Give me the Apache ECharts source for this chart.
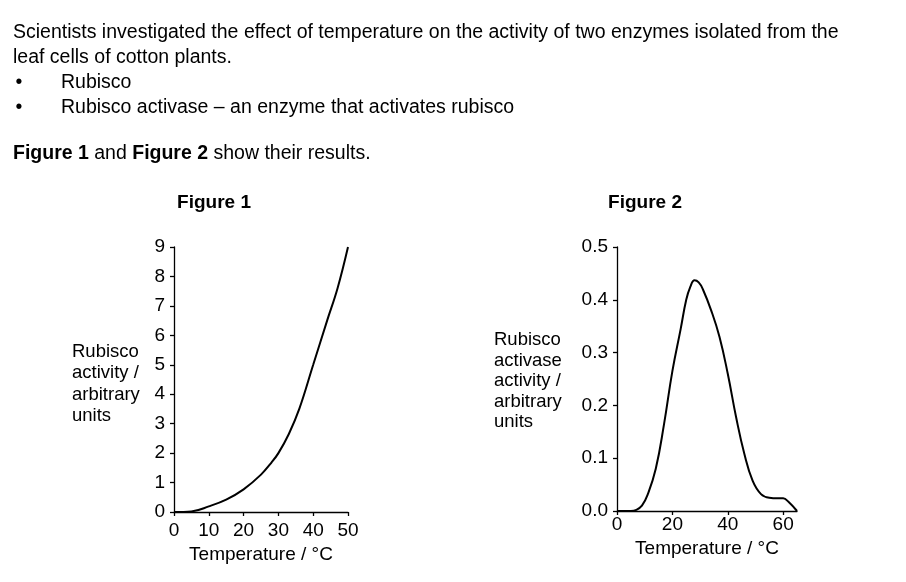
<!DOCTYPE html>
<html>
<head>
<meta charset="utf-8">
<title>Rubisco and rubisco activase</title>
<script src="https://cdn.jsdelivr.net/npm/echarts@6/dist/echarts.min.js"></script>
<style>
  html, body { margin: 0; padding: 0; background: #fff; }
  #main { width: 906px; height: 582px; }
</style>
</head>
<body>
<div id="main"></div>
<script>
// Figure 1: rubisco activity against temperature
var fig1Temp = [0, 5, 10, 15, 20, 25, 28, 30, 33, 36, 40, 44, 47, 50];
var fig1Activity = [0, 0.02, 0.19, 0.42, 0.77, 1.27, 1.68, 2.0, 2.65, 3.5, 5.0, 6.5, 7.6, 9.0];
var fig1XTicks = [0, 10, 20, 30, 40, 50];
var fig1YTicks = [0, 1, 2, 3, 4, 5, 6, 7, 8, 9];

// Figure 2: rubisco activase activity against temperature
var fig2Temp = [0, 5, 7, 9, 11, 14, 17, 20, 23, 25, 26.5, 28, 29.5, 31, 34, 37, 40, 43, 46, 49, 52, 55, 58, 60, 62, 65];
var fig2Activity = [0, 0, 0.002, 0.01, 0.03, 0.08, 0.165, 0.265, 0.345, 0.4, 0.425, 0.437, 0.433, 0.42, 0.38, 0.33, 0.26, 0.178, 0.108, 0.057, 0.032, 0.025, 0.024, 0.024, 0.017, 0];
var fig2XTicks = [0, 20, 40, 60];
var fig2YTicks = [0, 0.1, 0.2, 0.3, 0.4, 0.5];

var introLines = [
  'Scientists investigated the effect of temperature on the activity of two enzymes isolated from the',
  'leaf cells of cotton plants.'
];
var bulletItems = ['Rubisco', 'Rubisco activase \u2013 an enzyme that activates rubisco'];

(function () {
  var FONT = '"Liberation Sans", Arial, sans-serif';
  var myChart = echarts.init(document.getElementById('main'));

  function pairs(xs, ys) {
    return xs.map(function (x, i) { return [x, ys[i]]; });
  }

  // question text above the figures
  var texts = [];
  introLines.forEach(function (line, i) {
    texts.push({ type: 'text', x: 13, y: 32.5 + i * 25,
      style: { text: line, font: '19.5px ' + FONT, fill: '#000', verticalAlign: 'middle' } });
  });
  bulletItems.forEach(function (item, i) {
    var y = 82.5 + i * 25;
    texts.push({ type: 'text', x: 19, y: y, style: { text: '\u2022', font: '19.5px ' + FONT, fill: '#000', align: 'center', verticalAlign: 'middle' } });
    texts.push({ type: 'text', x: 61, y: y, style: { text: item, font: '19.5px ' + FONT, fill: '#000', verticalAlign: 'middle' } });
  });
  texts.push({ type: 'text', x: 13, y: 154,
    style: {
      text: '{b|Figure 1} and {b|Figure 2} show their results.',
      font: '19.5px ' + FONT, fill: '#000', verticalAlign: 'middle',
      rich: { b: { fontWeight: 'bold', fontSize: 19.5, fontFamily: FONT } }
    } });
  // figure titles
  texts.push({ type: 'text', x: 214, y: 203, style: { text: 'Figure 1', font: 'bold 19px ' + FONT, fill: '#000', align: 'center', verticalAlign: 'middle' } });
  texts.push({ type: 'text', x: 645, y: 203, style: { text: 'Figure 2', font: 'bold 19px ' + FONT, fill: '#000', align: 'center', verticalAlign: 'middle' } });
  // y axis names, left aligned blocks
  texts.push({ type: 'text', x: 72, y: 341, style: { text: 'Rubisco\nactivity /\narbitrary\nunits', font: '18.5px ' + FONT, lineHeight: 21.5, fill: '#000' } });
  texts.push({ type: 'text', x: 494, y: 330, style: { text: 'Rubisco\nactivase\nactivity /\narbitrary\nunits', font: '18.5px ' + FONT, lineHeight: 20.5, fill: '#000' } });

  var axisLine = { show: true, lineStyle: { color: '#000', width: 1.3 } };
  var axisTick = { show: true, inside: false, length: 4, lineStyle: { color: '#000', width: 1.3 } };
  var labelStyle = { color: '#000', fontSize: 19, fontFamily: FONT };

  var option = {
    backgroundColor: '#fff',
    animation: false,
    graphic: texts,
    grid: [
      { left: 174, top: 247, width: 174, height: 265 },
      { left: 617, top: 247, width: 180, height: 264 }
    ],
    xAxis: [
      {
        type: 'value', gridIndex: 0, min: 0, max: 50, interval: 10,
        name: 'Temperature / \u00b0C', nameLocation: 'middle', nameGap: 33,
        nameTextStyle: labelStyle,
        axisLine: axisLine,
        axisTick: Object.assign({ customValues: fig1XTicks }, axisTick),
        axisLabel: Object.assign({ margin: 9, customValues: fig1XTicks }, labelStyle),
        splitLine: { show: false }
      },
      {
        type: 'value', gridIndex: 1, min: 0, max: 65,
        name: 'Temperature / \u00b0C', nameLocation: 'middle', nameGap: 28,
        nameTextStyle: labelStyle,
        axisLine: axisLine,
        axisTick: Object.assign({ customValues: fig2XTicks }, axisTick),
        axisLabel: Object.assign({ margin: 4, customValues: fig2XTicks }, labelStyle),
        splitLine: { show: false }
      }
    ],
    yAxis: [
      {
        type: 'value', gridIndex: 0, min: 0, max: 9, interval: 1,
        axisLine: axisLine,
        axisTick: Object.assign({ customValues: fig1YTicks }, axisTick),
        axisLabel: Object.assign({ margin: 9, customValues: fig1YTicks }, labelStyle),
        splitLine: { show: false }
      },
      {
        type: 'value', gridIndex: 1, min: 0, max: 0.5, interval: 0.1,
        axisLine: axisLine,
        axisTick: Object.assign({ customValues: fig2YTicks }, axisTick),
        axisLabel: Object.assign({
          margin: 9, customValues: fig2YTicks,
          formatter: function (v) { return v.toFixed(1); }
        }, labelStyle),
        splitLine: { show: false }
      }
    ],
    series: [
      {
        name: 'Rubisco', type: 'line', xAxisIndex: 0, yAxisIndex: 0,
        data: pairs(fig1Temp, fig1Activity),
        smooth: 0.4, showSymbol: false,
        lineStyle: { color: '#000', width: 2 }
      },
      {
        name: 'Rubisco activase', type: 'line', xAxisIndex: 1, yAxisIndex: 1,
        data: pairs(fig2Temp, fig2Activity),
        smooth: 0.45, showSymbol: false,
        lineStyle: { color: '#000', width: 2 }
      }
    ]
  };
  myChart.setOption(option);
})();
</script>
</body>
</html>
